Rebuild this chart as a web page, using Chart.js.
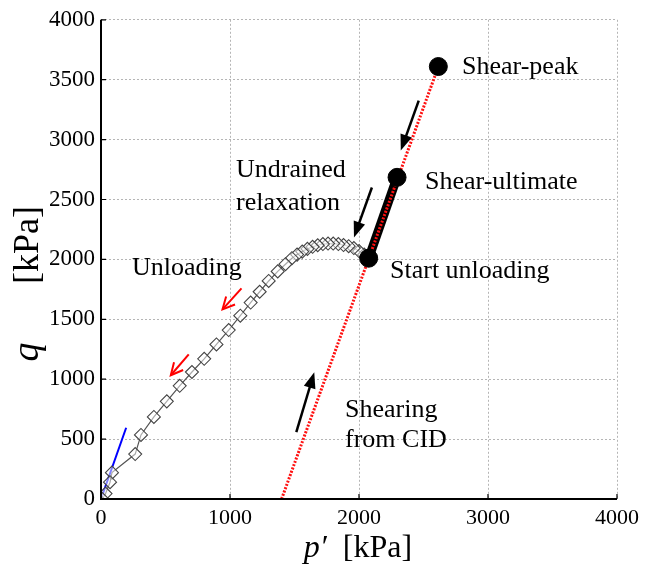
<!DOCTYPE html>
<html>
<head>
<meta charset="utf-8">
<script src="https://cdn.jsdelivr.net/npm/chart.js@4"></script>
<style>
  html, body { margin: 0; padding: 0; background: #fff; }
  #wrap { width: 645px; height: 568px; }
</style>
</head>
<body>
<div id="wrap"><canvas id="c" width="645" height="568"></canvas></div>
<script>
// ---- data (p' [kPa], q [kPa]) ----
const xTicks = [0, 1000, 2000, 3000, 4000];
const yTicks = [0, 500, 1000, 1500, 2000, 2500, 3000, 3500, 4000];

// shearing from CID
const cidP = [1400, 2615];
const cidQ = [0, 3610];

// undrained relaxation segment (thick black)
const relaxP = [2075, 2295];
const relaxQ = [2010, 2685];

// key points: shear-peak, shear-ultimate, start unloading
const keyP = [2615, 2295, 2075];
const keyQ = [3610, 2685, 2010];

// unloading path (diamonds)
const unloadP = [2075, 2040, 2000, 1960, 1920, 1880, 1840, 1800, 1760, 1720, 1680, 1640, 1600, 1560, 1520, 1480,
                 1430, 1370, 1300, 1230, 1160, 1080, 990, 895, 800, 705, 610, 510, 410, 310, 265, 85, 70, 35, 10];
const unloadQ = [2010, 2040, 2070, 2095, 2110, 2120, 2128, 2132, 2132, 2128, 2118, 2105, 2088, 2065, 2040, 2010,
                 1960, 1900, 1820, 1730, 1640, 1530, 1410, 1290, 1170, 1060, 945, 815, 685, 535, 375, 220, 140, 45, 0];

// elastic line (blue)
const elasticP = [0, 195];
const elasticQ = [0, 595];

// arrows
const blackArrowFromP = [2463, 2100, 1514];
const blackArrowFromQ = [3325, 2600, 558];
const blackArrowToP   = [2324, 1961, 1653];
const blackArrowToQ   = [2908, 2183, 1058];
const redArrowFromP = [1089, 680];
const redArrowFromQ = [1758, 1208];
const redArrowToP   = [942, 541];
const redArrowToQ   = [1583, 1033];

const toXY = (ps, qs) => ps.map((p, i) => ({ x: p, y: qs[i] }));

const FONT = '"Liberation Serif", "Times New Roman", serif';

function drawArrow(ctx, x1, y1, x2, y2, color, width, filled) {
  const ang = Math.atan2(y2 - y1, x2 - x1);
  const L = filled ? 16 : 12, W = 6;
  ctx.save();
  ctx.strokeStyle = color; ctx.fillStyle = color; ctx.lineWidth = width;
  ctx.beginPath();
  const ex = filled ? x2 - Math.cos(ang) * L * 0.8 : x2;
  const ey = filled ? y2 - Math.sin(ang) * L * 0.8 : y2;
  ctx.moveTo(x1, y1); ctx.lineTo(ex, ey); ctx.stroke();
  const bx = x2 - Math.cos(ang) * L, by = y2 - Math.sin(ang) * L;
  const nx = -Math.sin(ang) * W, ny = Math.cos(ang) * W;
  ctx.beginPath();
  if (filled) {
    ctx.moveTo(x2, y2); ctx.lineTo(bx + nx, by + ny); ctx.lineTo(bx - nx, by - ny); ctx.closePath(); ctx.fill();
  } else {
    ctx.moveTo(bx + nx, by + ny); ctx.lineTo(x2, y2); ctx.lineTo(bx - nx, by - ny); ctx.stroke();
  }
  ctx.restore();
}

const annotations = {
  id: 'annotations',
  afterDatasetsDraw(chart) {
    const { ctx, scales: { x, y } } = chart;
    blackArrowFromP.forEach((p, i) => {
      drawArrow(ctx, x.getPixelForValue(p), y.getPixelForValue(blackArrowFromQ[i]),
        x.getPixelForValue(blackArrowToP[i]), y.getPixelForValue(blackArrowToQ[i]), '#000', 2.5, true);
    });
    redArrowFromP.forEach((p, i) => {
      drawArrow(ctx, x.getPixelForValue(p), y.getPixelForValue(redArrowFromQ[i]),
        x.getPixelForValue(redArrowToP[i]), y.getPixelForValue(redArrowToQ[i]), '#ff0000', 2, false);
    });
    ctx.save();
    ctx.fillStyle = '#000';
    ctx.font = '26px ' + FONT;
    ctx.textBaseline = 'middle';
    ctx.textAlign = 'left';
    const t = (s, px, py) => ctx.fillText(s, px, py);
    t('Shear-peak', 462, 67);
    t('Shear-ultimate', 425, 182);
    t('Undrained', 236, 170);
    t('relaxation', 236, 203);
    t('Unloading', 132, 268);
    t('Start unloading', 390, 271);
    t('Shearing', 345, 410);
    t('from CID', 345, 440);

    // x axis title
    ctx.textBaseline = 'alphabetic';
    const SZ = 32;
    ctx.font = 'italic ' + SZ + 'px ' + FONT;
    const pW = ctx.measureText('p\u2032').width;
    ctx.font = SZ + 'px ' + FONT;
    const kW = ctx.measureText('  [kPa]').width;
    let sx = 358 - (pW + kW) / 2;
    ctx.font = 'italic ' + SZ + 'px ' + FONT;
    ctx.fillText('p\u2032', sx, 557);
    ctx.font = SZ + 'px ' + FONT;
    ctx.fillText('  [kPa]', sx + pW, 557);

    // y axis title
    ctx.translate(38, 0);
    ctx.rotate(-Math.PI / 2);
    ctx.textAlign = 'center';
    ctx.font = 'italic 38px ' + FONT;
    ctx.fillText('q', -352, 0);
    ctx.font = '36px ' + FONT;
    ctx.fillText('[kPa]', -245, 0);
    ctx.restore();
  }
};

const axisLines = {
  id: 'axisLines',
  afterDraw(chart) {
    const { ctx, chartArea: a, scales: { x, y } } = chart;
    ctx.save();
    ctx.strokeStyle = '#000';
    ctx.lineWidth = 2;
    ctx.beginPath();
    ctx.moveTo(a.left, a.top); ctx.lineTo(a.left, a.bottom); ctx.lineTo(a.right, a.bottom);
    ctx.stroke();
    ctx.lineWidth = 1.2;
    ctx.beginPath();
    xTicks.forEach(v => { const px = x.getPixelForValue(v); ctx.moveTo(px, a.bottom); ctx.lineTo(px, a.bottom - 5); });
    yTicks.forEach(v => { const py = y.getPixelForValue(v); ctx.moveTo(a.left, py); ctx.lineTo(a.left + 5, py); });
    ctx.stroke();
    ctx.restore();
  }
};

new Chart(document.getElementById('c'), {
  type: 'scatter',
  data: {
    datasets: [
      {
        label: 'Elastic',
        data: toXY(elasticP, elasticQ),
        showLine: true, borderColor: '#0000ff', borderWidth: 2, pointRadius: 0, order: 4
      },
      {
        label: 'Unloading',
        data: toXY(unloadP, unloadQ),
        showLine: true, borderColor: '#555', borderWidth: 1.2,
        pointStyle: 'rectRot', pointRadius: 6.5, pointBorderColor: '#444', pointBorderWidth: 1.1,
        pointBackgroundColor: 'rgba(255,255,255,0.5)', order: 3
      },
      {
        label: 'Relaxation',
        data: toXY(relaxP, relaxQ),
        showLine: true, borderColor: '#000', borderWidth: 9, pointRadius: 0, order: 2
      },
      {
        label: 'Shearing from CID',
        data: toXY(cidP, cidQ),
        showLine: true, borderColor: '#ff1010', borderWidth: 3, borderDash: [2, 1.5], pointRadius: 0, order: 1
      },
      {
        label: 'Key points',
        data: toXY(keyP, keyQ),
        showLine: false, pointRadius: 9, pointBackgroundColor: '#000', pointBorderColor: '#000', order: 0
      }
    ]
  },
  options: {
    responsive: false,
    animation: false,
    layout: { padding: { top: 19, right: 26, left: 0, bottom: 0 } },
    plugins: { legend: { display: false }, tooltip: { enabled: false } },
    scales: {
      x: {
        type: 'linear', min: 0, max: 4000,
        afterBuildTicks: s => { s.ticks = xTicks.map(v => ({ value: v })); },
        afterFit: s => { s.height = 69; },
        grid: { color: '#b5b5b5', lineWidth: 1, drawTicks: false },
        border: { display: false, dash: [2, 2] },
        ticks: { color: '#000', font: { family: FONT, size: 22 }, padding: 6, maxRotation: 0, callback: v => String(v) }
      },
      y: {
        type: 'linear', min: 0, max: 4000,
        afterBuildTicks: s => { s.ticks = yTicks.map(v => ({ value: v })); },
        afterFit: s => { s.width = 101; },
        grid: { color: '#b5b5b5', lineWidth: 1, drawTicks: false },
        border: { display: false, dash: [2, 2] },
        ticks: { color: '#000', font: { family: FONT, size: 23 }, padding: 6, callback: v => String(v) }
      }
    }
  },
  plugins: [axisLines, annotations]
});
</script>
</body>
</html>
